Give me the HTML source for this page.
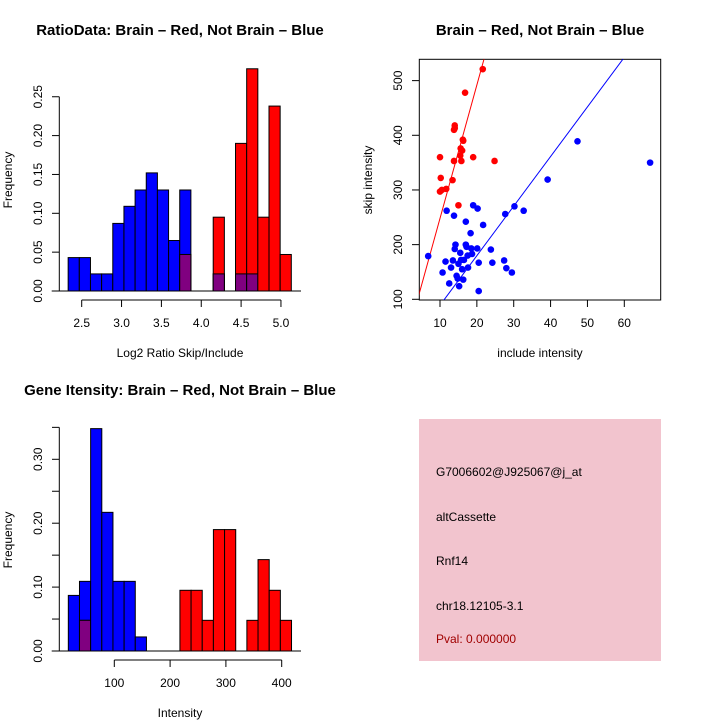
<!DOCTYPE html>
<html><head><meta charset="utf-8"><style>
body{margin:0;background:#fff}
svg{display:block;font-family:"Liberation Sans",sans-serif}
</style></head><body>
<svg id="s" width="720" height="720" xmlns="http://www.w3.org/2000/svg">
<rect width="720" height="720" fill="#fff"/>
<text x="180" y="35" font-size="15" font-weight="bold" text-anchor="middle">RatioData: Brain – Red, Not Brain – Blue</text>
<text x="540" y="35" font-size="15" font-weight="bold" text-anchor="middle">Brain – Red, Not Brain – Blue</text>
<text x="180" y="395" font-size="15" font-weight="bold" text-anchor="middle">Gene Itensity: Brain – Red, Not Brain – Blue</text>
<text x="180" y="357" font-size="12" text-anchor="middle">Log2 Ratio Skip/Include</text>
<text transform="translate(12,180) rotate(-90)" font-size="12" text-anchor="middle">Frequency</text>
<text x="540" y="357" font-size="12" text-anchor="middle">include intensity</text>
<text transform="translate(372,180) rotate(-90)" font-size="12" text-anchor="middle">skip intensity</text>
<text x="180" y="717" font-size="12" text-anchor="middle">Intensity</text>
<text transform="translate(12,540) rotate(-90)" font-size="12" text-anchor="middle">Frequency</text>
<g>
<rect x="419" y="419" width="242" height="242" fill="#f2c4ce"/>
<text x="436" y="476" font-size="12">G7006602@J925067@j_at</text>
<text x="436" y="521" font-size="12">altCassette</text>
<text x="436" y="565" font-size="12">Rnf14</text>
<text x="436" y="610" font-size="12">chr18.12105-3.1</text>
<text x="436" y="643" font-size="12" fill="#a00000">Pval: 0.000000</text>
</g>
</svg>
<script>
// Ratio histogram data
const ratioBlue=[0.043,0.043,0.022,0.022,0.087,0.109,0.130,0.152,0.130,0.065,0.130,0,0,0.022,0,0.022,0.022,0,0,0];
const ratioRed=[0,0,0,0,0,0,0,0,0,0,0.047,0,0,0.095,0,0.190,0.286,0.095,0.238,0.047];
const ratioXTicks=[2.5,3.0,3.5,4.0,4.5,5.0];
const ratioYTicks=[0,0.05,0.10,0.15,0.20,0.25];
// Intensity histogram data
const intBlue=[0.087,0.109,0.348,0.217,0.109,0.109,0.022,0,0,0,0,0,0,0,0,0,0,0,0,0];
const intRed=[0,0.048,0,0,0,0,0,0,0,0,0.095,0.095,0.048,0.190,0.190,0,0.048,0.143,0.095,0.048];
const intXTicks=[100,200,300,400];
const intYTicks=[0,0.05,0.10,0.15,0.20,0.25,0.30,0.35];
// Scatter data
const redX=[10,10.2,10,10.5,11.7,13.4,13.8,14,14,13.8,15,15.5,15.6,15.8,16,16.2,16.3,16.8,19,21.6,24.8];
const redY=[360,322,297,300,302,318,410,418,413,353,272,363,376,353,372,392,390,478,360,521,353];
const blueX=[6.8,10.7,11.5,11.8,12.5,13,13.5,13.8,14,14.2,14.5,14.8,15,15.2,15.5,15.7,16,16.3,16.5,17,17,17.2,17.6,17.5,18.3,18.5,18.7,19,20.2,20.1,20.5,20.5,21.7,23.8,24.2,27.4,27.7,28,29.5,30.2,32.7,39.2,47.3,67];
const blueY=[179,149,169,262,129,158,171,253,192,200,143,138,165,124,185,172,155,136,172,242,200,196,158,180,221,193,183,272,266,193,167,115,236,191,167,171,256,157,149,270,262,319,389,350];
const redFit=[4,24.4];
const blueFit=[-1.6,9.07];
const sxTicks=[10,20,30,40,50,60];
const syTicks=[100,200,300,400,500];

const S=document.getElementById('s');const NS='http://www.w3.org/2000/svg';
function mk(t,a,p){const e=document.createElementNS(NS,t);for(const k in a)e.setAttribute(k,a[k]);(p||S).appendChild(e);return e;}
function grp(n){const g=mk('g',{});return g;}
function ytxt(g,x,y,s){const t=mk('text',{transform:`translate(${x},${y}) rotate(-90)`,'font-size':12,'text-anchor':'middle'},g);t.textContent=s;return t;}

function hist(name,blue,red,x0,bw,xs,ys,xTicks,yTicks,yTop,yLabFmt,xFmt,axisY){
  const g=grp(name);
  blue.forEach((v,i)=>{const b=red[i];const xa=xs(x0+i*bw),xb=xs(x0+(i+1)*bw);
    if(v>0){const r=mk('rect',{x:xa,y:ys(v),width:xb-xa,height:ys(0)-ys(v),fill:'#0000ff',stroke:'#000','stroke-width':1},g);}
    if(b>0){const r=mk('rect',{x:xa,y:ys(b),width:xb-xa,height:ys(0)-ys(b),fill:'#ff0000',stroke:'#000','stroke-width':1},g);}
    const m=Math.min(v,b);if(m>0){const r=mk('rect',{x:xa,y:ys(m),width:xb-xa,height:ys(0)-ys(m),fill:'#800080',stroke:'#000','stroke-width':1},g);}
  });
  mk('line',{x1:51.7,x2:301,y1:ys(0),y2:ys(0),stroke:'#000'},g);
  const ya=grp(name+'-y-axis');
  mk('line',{x1:59.3,x2:59.3,y1:ys(0),y2:ys(yTop),stroke:'#000'},ya);
  yTicks.forEach((v,i)=>{mk('line',{x1:52,x2:59.3,y1:ys(v),y2:ys(v),stroke:'#000'},ya);
    if(yLabFmt(v,i)!==null) ytxt(ya,42,ys(v),yLabFmt(v,i));});
  const xa=grp(name+'-x-axis');
  mk('line',{x1:xs(xTicks[0]),x2:xs(xTicks[xTicks.length-1]),y1:axisY,y2:axisY,stroke:'#000'},xa);
  xTicks.forEach(v=>{mk('line',{x1:xs(v),x2:xs(v),y1:axisY,y2:axisY+7,stroke:'#000'},xa);
    const t=mk('text',{x:xs(v),y:axisY+27,'font-size':12,'text-anchor':'middle'},xa);t.textContent=xFmt(v);});
}
hist('ratio-histogram',ratioBlue,ratioRed,2.33,0.14,v=>81.7+(v-2.5)*79.7,v=>291-v*777,ratioXTicks,ratioYTicks,0.25,v=>v.toFixed(2),v=>v.toFixed(1),300);
hist('intensity-histogram',intBlue,intRed,17.6,20,v=>114.3+(v-100)*0.558,v=>651-v*639,intXTicks,intYTicks,0.35,(v,i)=>i%2===0?v.toFixed(2):null,v=>String(v),660);

// scatter
const sx=v=>440+(v-10)*3.686, sy=v=>299.3-(v-100)*0.5467;
const sg=grp('scatter-plot');
const cp=mk('clipPath',{id:'cp'},sg);mk('rect',{x:419.3,y:59.3,width:241.4,height:240.7},cp);
mk('rect',{x:419.3,y:59.3,width:241.4,height:240.7,fill:'none',stroke:'#000'},sg);
[[redFit,'#ff0000','fit-line-red'],[blueFit,'#0000ff','fit-line-blue']].forEach(([f,c,n])=>{
  const l=mk('line',{x1:sx(0),y1:sy(f[0]),x2:sx(80),y2:sy(f[0]+f[1]*80),stroke:c,'stroke-width':1,'clip-path':'url(#cp)'},sg);
  });
blueX.forEach((x,i)=>{const c=mk('circle',{cx:sx(x),cy:sy(blueY[i]),r:3.3,fill:'#0000ff'},sg);});
redX.forEach((x,i)=>{const c=mk('circle',{cx:sx(x),cy:sy(redY[i]),r:3.3,fill:'#ff0000'},sg);});
const sxa=grp('scatter-x-axis');
sxTicks.forEach(v=>{mk('line',{x1:sx(v),x2:sx(v),y1:300,y2:307,stroke:'#000'},sxa);
  const t=mk('text',{x:sx(v),y:327,'font-size':12,'text-anchor':'middle'},sxa);t.textContent=v;});
const sya=grp('scatter-y-axis');
syTicks.forEach(v=>{mk('line',{x1:412,x2:419.3,y1:sy(v),y2:sy(v),stroke:'#000'},sya);ytxt(sya,402,sy(v),String(v));});
</script>
</body></html>
